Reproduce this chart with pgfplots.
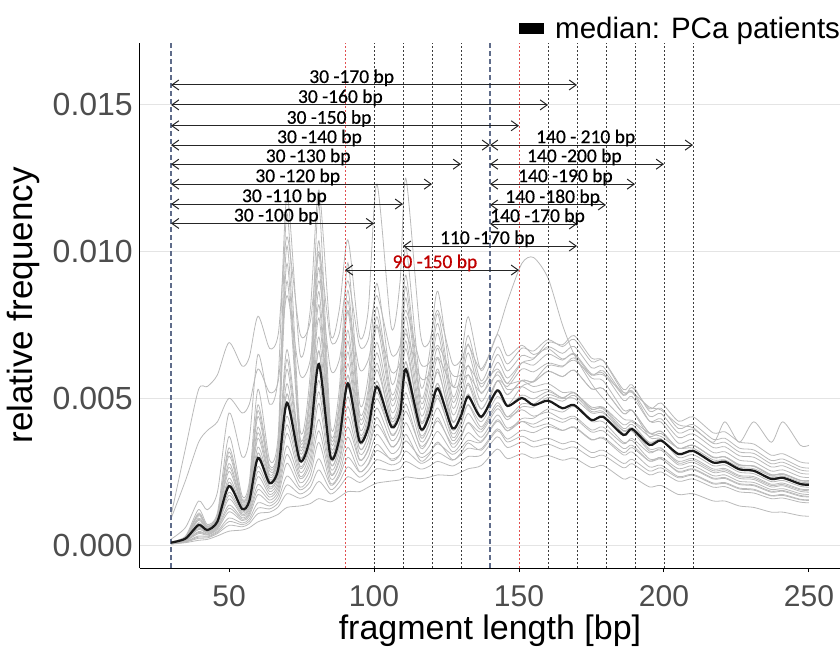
\documentclass[border=0pt]{standalone}
\usepackage{fontspec}
\setmainfont{Liberation Sans}
\newfontfamily\calfont{Carlito}[FakeBold=0.5]
\usepackage{pgfplots}
\pgfplotsset{compat=1.18}
\usepackage{pgfplotstable}
\usetikzlibrary{arrows.meta}
\definecolor{curvegray}{RGB}{186,186,186}
\definecolor{medblack}{RGB}{26,26,26}
\definecolor{dashblue}{RGB}{95,108,138}
\definecolor{dotred}{RGB}{226,80,80}
\definecolor{dotblack}{RGB}{60,60,60}
\definecolor{labred}{RGB}{192,0,0}
\definecolor{tickgray}{RGB}{77,77,77}
\definecolor{gridgray}{RGB}{228,228,228}

\pgfplotstableread{
x M c1 c2 c3 c4 c5 c6 c7 c8 c9 c10 c11 c12 c13 c14 A A2 B C
30 0.00008 0.00003 0.00004 0.00004 0.00005 0.00006 0.00006 0.00007 0.00008 0.00008 0.00009 0.00009 0.00010 0.00010 0.00011 0.00100 0.00090 0.00020 0.00008
35 0.00022 0.00008 0.00010 0.00012 0.00014 0.00016 0.00018 0.00019 0.00021 0.00022 0.00024 0.00025 0.00026 0.00028 0.00030 0.00330 0.00220 0.00060 0.00021
39.5 0.00068 0.00016 0.00023 0.00031 0.00039 0.00046 0.00053 0.00061 0.00067 0.00076 0.00084 0.00092 0.00100 0.00109 0.00121 0.00530 0.00350 0.00150 0.00072
42.5 0.00051 0.00019 0.00024 0.00030 0.00034 0.00038 0.00041 0.00045 0.00048 0.00052 0.00055 0.00058 0.00061 0.00065 0.00070 0.00540 0.00390 0.00120 0.00050
46 0.00080 0.00031 0.00039 0.00047 0.00053 0.00060 0.00064 0.00071 0.00076 0.00082 0.00085 0.00091 0.00096 0.00102 0.00110 0.00580 0.00420 0.00180 0.00079
50 0.00201 0.00047 0.00067 0.00092 0.00113 0.00136 0.00157 0.00180 0.00200 0.00228 0.00251 0.00278 0.00303 0.00331 0.00370 0.00690 0.00500 0.00450 0.00214
54.5 0.00123 0.00051 0.00062 0.00075 0.00083 0.00093 0.00100 0.00110 0.00116 0.00127 0.00131 0.00140 0.00147 0.00157 0.00168 0.00610 0.00450 0.00300 0.00121
57 0.00150 0.00059 0.00073 0.00089 0.00099 0.00112 0.00121 0.00135 0.00142 0.00157 0.00163 0.00175 0.00186 0.00200 0.00215 0.00640 0.00480 0.00360 0.00150
60 0.00297 0.00079 0.00107 0.00144 0.00172 0.00206 0.00233 0.00268 0.00293 0.00334 0.00364 0.00402 0.00438 0.00478 0.00531 0.00780 0.00600 0.00650 0.00313
64 0.00211 0.00092 0.00112 0.00133 0.00143 0.00163 0.00172 0.00191 0.00198 0.00218 0.00223 0.00239 0.00252 0.00270 0.00289 0.00670 0.00520 0.00480 0.00208
67 0.00260 0.00105 0.00130 0.00157 0.00171 0.00197 0.00210 0.00236 0.00247 0.00274 0.00283 0.00308 0.00327 0.00352 0.00381 0.00720 0.00560 0.00580 0.00260
70 0.00485 0.00128 0.00175 0.00235 0.00279 0.00338 0.00381 0.00439 0.00480 0.00550 0.00599 0.00666 0.00900 0.01020 0.01130 0.01050 0.00850 0.01190 0.00515
74.5 0.00287 0.00133 0.00159 0.00188 0.00197 0.00226 0.00234 0.00262 0.00269 0.00298 0.00300 0.00325 0.00342 0.00367 0.00393 0.00720 0.00580 0.00650 0.00283
78 0.00370 0.00141 0.00176 0.00217 0.00237 0.00278 0.00297 0.00338 0.00355 0.00401 0.00418 0.00459 0.00492 0.00534 0.00583 0.00760 0.00630 0.00800 0.00378
81 0.00617 0.00158 0.00217 0.00294 0.00350 0.00428 0.00483 0.00561 0.00614 0.00709 0.00774 0.00864 0.00946 0.01037 0.01160 0.01000 0.00900 0.01210 0.00661
85 0.00301 0.00147 0.00174 0.00204 0.00210 0.00241 0.00247 0.00277 0.00281 0.00313 0.00313 0.00340 0.00358 0.00385 0.00412 0.00700 0.00600 0.00720 0.00297
88 0.00360 0.00163 0.00196 0.00233 0.00243 0.00283 0.00293 0.00332 0.00340 0.00382 0.00388 0.00425 0.00451 0.00488 0.00528 0.00720 0.00630 0.00800 0.00361
91 0.00551 0.00182 0.00233 0.00299 0.00333 0.00402 0.00438 0.00505 0.00539 0.00618 0.00658 0.00732 0.00795 0.00868 0.00962 0.00900 0.00800 0.01040 0.00578
95 0.00354 0.00182 0.00213 0.00249 0.00250 0.00289 0.00292 0.00329 0.00330 0.00370 0.00365 0.00399 0.00421 0.00453 0.00485 0.00680 0.00600 0.00710 0.00350
98 0.00400 0.00197 0.00232 0.00273 0.00276 0.00323 0.00328 0.00372 0.00375 0.00423 0.00422 0.00464 0.00491 0.00531 0.00573 0.00700 0.00630 0.00800 0.00399
101 0.00540 0.00211 0.00260 0.00322 0.00343 0.00411 0.00435 0.00499 0.00521 0.00597 0.00620 0.00690 0.00744 0.00811 0.00892 0.00850 0.00750 0.01230 0.00559
106 0.00403 0.00218 0.00253 0.00293 0.00288 0.00336 0.00334 0.00378 0.00374 0.00422 0.00412 0.00454 0.00478 0.00516 0.00552 0.00650 0.00590 0.00740 0.00398
109 0.00450 0.00222 0.00261 0.00309 0.00309 0.00365 0.00370 0.00421 0.00424 0.00483 0.00481 0.00533 0.00567 0.00615 0.00666 0.00680 0.00620 0.00900 0.00453
111 0.00599 0.00232 0.00285 0.00355 0.00377 0.00456 0.00481 0.00556 0.00580 0.00669 0.00696 0.00778 0.00842 0.00920 0.01016 0.00800 0.00720 0.01250 0.00624
116 0.00398 0.00226 0.00259 0.00299 0.00287 0.00338 0.00331 0.00376 0.00369 0.00419 0.00404 0.00447 0.00471 0.00509 0.00545 0.00620 0.00570 0.00720 0.00394
119 0.00440 0.00231 0.00268 0.00314 0.00307 0.00365 0.00363 0.00415 0.00412 0.00472 0.00464 0.00516 0.00549 0.00596 0.00644 0.00620 0.00580 0.00690 0.00442
122 0.00534 0.00239 0.00285 0.00345 0.00351 0.00423 0.00434 0.00500 0.00511 0.00590 0.00600 0.00671 0.00722 0.00788 0.00865 0.00680 0.00640 0.00800 0.00550
127 0.00398 0.00237 0.00269 0.00309 0.00291 0.00344 0.00333 0.00379 0.00367 0.00420 0.00401 0.00447 0.00470 0.00509 0.00545 0.00580 0.00540 0.00620 0.00393
130 0.00440 0.00248 0.00285 0.00330 0.00314 0.00375 0.00366 0.00419 0.00410 0.00471 0.00456 0.00509 0.00540 0.00586 0.00632 0.00580 0.00550 0.00630 0.00440
132.5 0.00506 0.00260 0.00302 0.00357 0.00348 0.00418 0.00416 0.00479 0.00477 0.00552 0.00546 0.00613 0.00655 0.00714 0.00778 0.00610 0.00580 0.00680 0.00514
137 0.00437 0.00271 0.00306 0.00350 0.00323 0.00385 0.00367 0.00420 0.00402 0.00463 0.00437 0.00489 0.00516 0.00559 0.00594 0.00550 0.00520 0.00600 0.00432
142.5 0.00527 0.00327 0.00369 0.00422 0.00390 0.00464 0.00443 0.00506 0.00485 0.00559 0.00527 0.00590 0.00622 0.00675 0.00717 0.00600 0.00580 0.00720 0.00560
146 0.00474 0.00294 0.00332 0.00389 0.00351 0.00427 0.00398 0.00475 0.00436 0.00512 0.00474 0.00551 0.00569 0.00617 0.00645 0.00550 0.00530 0.00830 0.00540
151 0.00501 0.00311 0.00351 0.00431 0.00371 0.00471 0.00421 0.00541 0.00461 0.00561 0.00501 0.00621 0.00621 0.00671 0.00681 0.00560 0.00540 0.00960 0.00600
155 0.00477 0.00296 0.00334 0.00432 0.00353 0.00470 0.00401 0.00558 0.00439 0.00556 0.00477 0.00634 0.00613 0.00661 0.00649 0.00540 0.00520 0.00980 0.00590
160 0.00492 0.00305 0.00344 0.00464 0.00364 0.00503 0.00413 0.00612 0.00453 0.00592 0.00492 0.00691 0.00651 0.00700 0.00669 0.00550 0.00530 0.00910 0.00620
165 0.00466 0.00289 0.00326 0.00453 0.00345 0.00490 0.00391 0.00607 0.00429 0.00574 0.00466 0.00682 0.00630 0.00676 0.00634 0.00520 0.00500 0.00750 0.00610
169 0.00477 0.00296 0.00334 0.00472 0.00353 0.00510 0.00401 0.00638 0.00439 0.00596 0.00477 0.00714 0.00653 0.00701 0.00649 0.00520 0.00500 0.00650 0.00630
175 0.00426 0.00264 0.00298 0.00421 0.00315 0.00455 0.00358 0.00569 0.00392 0.00532 0.00426 0.00637 0.00583 0.00625 0.00579 0.00470 0.00450 0.00550 0.00580
179 0.00437 0.00271 0.00306 0.00420 0.00323 0.00455 0.00367 0.00560 0.00402 0.00533 0.00437 0.00629 0.00586 0.00629 0.00594 0.00470 0.00450 0.00500 0.00580
186 0.00375 0.00225 0.00263 0.00350 0.00278 0.00380 0.00315 0.00460 0.00345 0.00448 0.00375 0.00520 0.00493 0.00530 0.00510 0.00410 0.00390 0.00430 0.00520
189 0.00395 0.00232 0.00277 0.00356 0.00292 0.00388 0.00332 0.00459 0.00363 0.00459 0.00395 0.00522 0.00506 0.00546 0.00537 0.00420 0.00400 0.00425 0.00520
195 0.00341 0.00198 0.00239 0.00293 0.00252 0.00320 0.00286 0.00367 0.00314 0.00381 0.00341 0.00422 0.00422 0.00456 0.00464 0.00370 0.00350 0.00380 0.00470
199 0.00356 0.00203 0.00249 0.00295 0.00263 0.00323 0.00299 0.00362 0.00328 0.00387 0.00356 0.00419 0.00430 0.00466 0.00484 0.00380 0.00360 0.00370 0.00460
205 0.00310 0.00172 0.00217 0.00248 0.00229 0.00273 0.00260 0.00298 0.00285 0.00329 0.00310 0.00347 0.00366 0.00397 0.00422 0.00330 0.00310 0.00330 0.00410
210 0.00321 0.00175 0.00225 0.00257 0.00238 0.00282 0.00270 0.00308 0.00295 0.00340 0.00321 0.00360 0.00379 0.00411 0.00437 0.00340 0.00320 0.00330 0.00400
217 0.00281 0.00150 0.00197 0.00225 0.00208 0.00247 0.00236 0.00270 0.00259 0.00298 0.00281 0.00315 0.00332 0.00360 0.00382 0.00300 0.00280 0.00290 0.00350
221 0.00284 0.00150 0.00199 0.00227 0.00210 0.00250 0.00239 0.00273 0.00261 0.00301 0.00284 0.00318 0.00335 0.00364 0.00386 0.00300 0.00280 0.00290 0.00420
226 0.00258 0.00133 0.00181 0.00206 0.00191 0.00227 0.00217 0.00248 0.00237 0.00273 0.00258 0.00289 0.00304 0.00330 0.00351 0.00270 0.00260 0.00265 0.00350
231 0.00253 0.00128 0.00177 0.00202 0.00187 0.00223 0.00213 0.00243 0.00233 0.00268 0.00253 0.00283 0.00299 0.00324 0.00344 0.00270 0.00250 0.00260 0.00420
237 0.00225 0.00112 0.00158 0.00180 0.00167 0.00198 0.00189 0.00216 0.00207 0.00238 0.00225 0.00252 0.00266 0.00288 0.00306 0.00240 0.00230 0.00235 0.00350
241 0.00229 0.00112 0.00160 0.00183 0.00169 0.00202 0.00192 0.00220 0.00211 0.00243 0.00229 0.00256 0.00270 0.00293 0.00311 0.00240 0.00230 0.00235 0.00420
247 0.00208 0.00100 0.00146 0.00166 0.00154 0.00183 0.00175 0.00200 0.00191 0.00220 0.00208 0.00233 0.00245 0.00266 0.00283 0.00220 0.00210 0.00215 0.00340
250 0.00205 0.00098 0.00144 0.00164 0.00152 0.00180 0.00172 0.00197 0.00189 0.00217 0.00205 0.00230 0.00242 0.00262 0.00279 0.00220 0.00210 0.00212 0.00340
}\data

\pgfplotstableread{
x d1 d2 d3 d4 d5 d6
30 0.00004 0.00006 0.00007 0.00008 0.00009 0.00010
35 0.00011 0.00015 0.00019 0.00022 0.00025 0.00027
39.5 0.00027 0.00043 0.00057 0.00072 0.00088 0.00105
42.5 0.00027 0.00036 0.00043 0.00050 0.00057 0.00063
46 0.00043 0.00057 0.00068 0.00079 0.00088 0.00099
50 0.00080 0.00125 0.00169 0.00214 0.00265 0.00317
54.5 0.00069 0.00088 0.00105 0.00122 0.00136 0.00152
57 0.00081 0.00106 0.00128 0.00150 0.00169 0.00193
60 0.00126 0.00189 0.00251 0.00314 0.00383 0.00458
64 0.00123 0.00153 0.00182 0.00208 0.00231 0.00261
67 0.00144 0.00184 0.00223 0.00261 0.00296 0.00340
70 0.00205 0.00309 0.00410 0.00515 0.00633 0.00960
74.5 0.00174 0.00212 0.00248 0.00284 0.00313 0.00355
78 0.00197 0.00258 0.00318 0.00378 0.00439 0.00513
81 0.00256 0.00389 0.00522 0.00662 0.00819 0.00992
85 0.00189 0.00226 0.00262 0.00297 0.00327 0.00372
88 0.00215 0.00263 0.00313 0.00361 0.00407 0.00470
91 0.00266 0.00368 0.00472 0.00579 0.00695 0.00832
95 0.00231 0.00270 0.00311 0.00350 0.00382 0.00437
98 0.00253 0.00300 0.00350 0.00399 0.00443 0.00511
101 0.00291 0.00377 0.00467 0.00559 0.00655 0.00778
106 0.00273 0.00312 0.00356 0.00398 0.00433 0.00497
109 0.00285 0.00337 0.00396 0.00454 0.00507 0.00591
111 0.00320 0.00417 0.00519 0.00625 0.00737 0.00881
116 0.00279 0.00313 0.00354 0.00394 0.00426 0.00490
119 0.00291 0.00336 0.00389 0.00442 0.00490 0.00573
122 0.00315 0.00387 0.00467 0.00551 0.00636 0.00755
127 0.00289 0.00318 0.00356 0.00394 0.00424 0.00490
130 0.00308 0.00345 0.00393 0.00441 0.00483 0.00563
132.5 0.00330 0.00383 0.00448 0.00515 0.00580 0.00685
137 0.00328 0.00354 0.00394 0.00433 0.00463 0.00538
142.5 0.00396 0.00427 0.00475 0.00522 0.00559 0.00649
146 0.00361 0.00389 0.00437 0.00474 0.00513 0.00593
151 0.00391 0.00421 0.00481 0.00511 0.00561 0.00646
155 0.00383 0.00412 0.00480 0.00498 0.00556 0.00637
160 0.00404 0.00434 0.00513 0.00523 0.00592 0.00676
165 0.00390 0.00418 0.00499 0.00502 0.00574 0.00653
169 0.00403 0.00432 0.00520 0.00518 0.00596 0.00677
175 0.00360 0.00385 0.00464 0.00462 0.00532 0.00604
179 0.00363 0.00389 0.00464 0.00468 0.00533 0.00608
186 0.00307 0.00329 0.00388 0.00397 0.00448 0.00512
189 0.00317 0.00340 0.00396 0.00411 0.00459 0.00526
195 0.00266 0.00286 0.00327 0.00348 0.00382 0.00439
199 0.00272 0.00293 0.00331 0.00358 0.00388 0.00448
205 0.00233 0.00251 0.00279 0.00307 0.00329 0.00382
210 0.00241 0.00260 0.00289 0.00318 0.00341 0.00395
217 0.00211 0.00228 0.00253 0.00279 0.00298 0.00346
221 0.00213 0.00230 0.00256 0.00281 0.00301 0.00350
226 0.00194 0.00209 0.00233 0.00255 0.00274 0.00317
231 0.00190 0.00205 0.00228 0.00251 0.00268 0.00312
237 0.00169 0.00183 0.00203 0.00223 0.00239 0.00277
241 0.00172 0.00186 0.00206 0.00227 0.00243 0.00282
247 0.00156 0.00169 0.00188 0.00206 0.00221 0.00256
250 0.00154 0.00166 0.00185 0.00203 0.00218 0.00252
}\dataB

\tikzset{
  vdash/.style={dashblue, line width=1.1bp, dash pattern=on 5bp off 3bp},
  vdotb/.style={dotblack, line width=0.9bp, dash pattern=on 2bp off 2bp},
  vdotr/.style={dotred, line width=0.9bp, dash pattern=on 2bp off 2bp},
  rng/.style={black!85, line width=1bp, {Straight Barb[length=7bp,width=10bp]}-{Straight Barb[length=7bp,width=10bp]}},
  rlab/.style={anchor=base, inner sep=0pt, yshift=2bp, font=\calfont\fontsize{19.5bp}{23bp}\selectfont},
}

\begin{document}
\begin{tikzpicture}
\begin{axis}[
  scale only axis, width=700bp, height=525bp,
  xmin=19.3, xmax=260.7, ymin=-0.000784, ymax=0.01711,
  axis x line*=bottom, axis y line*=left,
  axis line style={black, line width=1bp},
  xtick={50,100,150,200,250},
  ytick={0,0.005,0.01,0.015},
  scaled y ticks=false,
  ymajorgrids, grid style={gridgray, line width=0.9bp},
  tick align=outside,
  xtick style={black, line width=1bp},
  major tick length=4bp,
  ytick style={draw=none},
  /pgf/number format/assume math mode=true,
  yticklabel style={/pgf/number format/fixed, /pgf/number format/precision=3, /pgf/number format/fixed zerofill,
    font=\fontsize{32bp}{38bp}\selectfont, color=tickgray, anchor=east, inner sep=0pt, xshift=-3bp},
  xticklabel style={font=\fontsize{30bp}{36bp}\selectfont, color=tickgray, anchor=north, inner sep=0pt, yshift=-13bp},
  xlabel={fragment length [bp]}, ylabel={relative frequency},
  xlabel style={at={(axis description cs:0.5,-0.137)}, anchor=base, inner sep=0pt, font=\fontsize{34bp}{40bp}\selectfont},
  ylabel style={at={(axis description cs:-0.153,0.5)}, anchor=base, inner sep=0pt, font=\fontsize{35bp}{41bp}\selectfont},
  legend style={at={(rel axis cs:1,1)}, anchor=south east, draw=none, fill=none, inner sep=0pt, outer sep=0pt,
    yshift=3bp, column sep=11bp, nodes={inner sep=0pt}, font=\fontsize{29.5bp}{35bp}\selectfont},
  clip=false,
]
\pgfplotsinvokeforeach{c1,c2,c3,c4,c5,c6,c7,c8,c9,c10,c11,c12,c13,c14,A,A2,B,C}{
  \addplot[forget plot, curvegray, line width=0.8bp, smooth, tension=0.45] table[x=x, y=#1]{\data};
}
\pgfplotsinvokeforeach{d1,d2,d3,d4,d5,d6}{
  \addplot[forget plot, curvegray, line width=0.8bp, smooth, tension=0.45] table[x=x, y=#1]{\dataB};
}
\draw[vdash] (axis cs:30,-0.000784) -- (axis cs:30,0.01711);
\draw[vdash] (axis cs:140,-0.000784) -- (axis cs:140,0.01711);
\draw[vdotr] (axis cs:90,-0.000784) -- (axis cs:90,0.01711);
\draw[vdotr] (axis cs:150,-0.000784) -- (axis cs:150,0.01711);
\pgfplotsinvokeforeach{100,110,120,130,160,170,180,190,200,210}{
  \draw[vdotb] (axis cs:#1,-0.000784) -- (axis cs:#1,0.01711);
}
\addplot[medblack, line width=2.2bp, smooth, tension=0.45,
  legend image code/.code={\fill[black] (0bp,-4.5bp) rectangle (23bp,4.5bp);}] table[x=x, y=M]{\data};
\addlegendentry{median: PCa patients}

\draw[rng] (axis cs:30,0.01568) -- (axis cs:170,0.01568);
\node[rlab] at (axis cs:92.3,0.01568) {30 -170 bp};
\draw[rng] (axis cs:30,0.01500) -- (axis cs:160,0.01500);
\node[rlab] at (axis cs:88.4,0.01500) {30 -160 bp};
\draw[rng] (axis cs:30,0.01429) -- (axis cs:150,0.01429);
\node[rlab] at (axis cs:84.5,0.01429) {30 -150 bp};
\draw[rng] (axis cs:30,0.01363) -- (axis cs:140,0.01363);
\node[rlab] at (axis cs:81.2,0.01363) {30 -140 bp};
\draw[rng] (axis cs:30,0.01298) -- (axis cs:130,0.01298);
\node[rlab] at (axis cs:77.3,0.01298) {30 -130 bp};
\draw[rng] (axis cs:30,0.01230) -- (axis cs:120,0.01230);
\node[rlab] at (axis cs:73.7,0.01230) {30 -120 bp};
\draw[rng] (axis cs:30,0.01162) -- (axis cs:110,0.01162);
\node[rlab] at (axis cs:69.1,0.01162) {30 -110 bp};
\draw[rng] (axis cs:30,0.01096) -- (axis cs:100,0.01096);
\node[rlab] at (axis cs:66.3,0.01096) {30 -100 bp};
\draw[rng] (axis cs:140,0.01363) -- (axis cs:210,0.01363);
\node[rlab] at (axis cs:173,0.01363) {140 - 210 bp};
\draw[rng] (axis cs:140,0.01298) -- (axis cs:200,0.01298);
\node[rlab] at (axis cs:169.1,0.01298) {140 -200 bp};
\draw[rng] (axis cs:140,0.01230) -- (axis cs:190,0.01230);
\node[rlab] at (axis cs:166,0.01230) {140 -190 bp};
\draw[rng] (axis cs:140,0.01159) -- (axis cs:180,0.01159);
\node[rlab] at (axis cs:161.6,0.01159) {140 -180 bp};
\draw[rng] (axis cs:140,0.01094) -- (axis cs:170,0.01094);
\node[rlab] at (axis cs:156.4,0.01094) {140 -170 bp};
\draw[rng] (axis cs:110,0.01019) -- (axis cs:170,0.01019);
\node[rlab] at (axis cs:139.1,0.01019) {110 -170 bp};
\draw[rng] (axis cs:90,0.00937) -- (axis cs:150,0.00937);
\node[rlab, text=labred] at (axis cs:121,0.00937) {90 -150 bp};
\end{axis}
\pgfresetboundingbox
\path[use as bounding box] ([xshift=-140bp,yshift=-80bp]current axis.south west) rectangle ([xshift=700bp,yshift=568bp]current axis.south west);
\end{tikzpicture}
\end{document}
